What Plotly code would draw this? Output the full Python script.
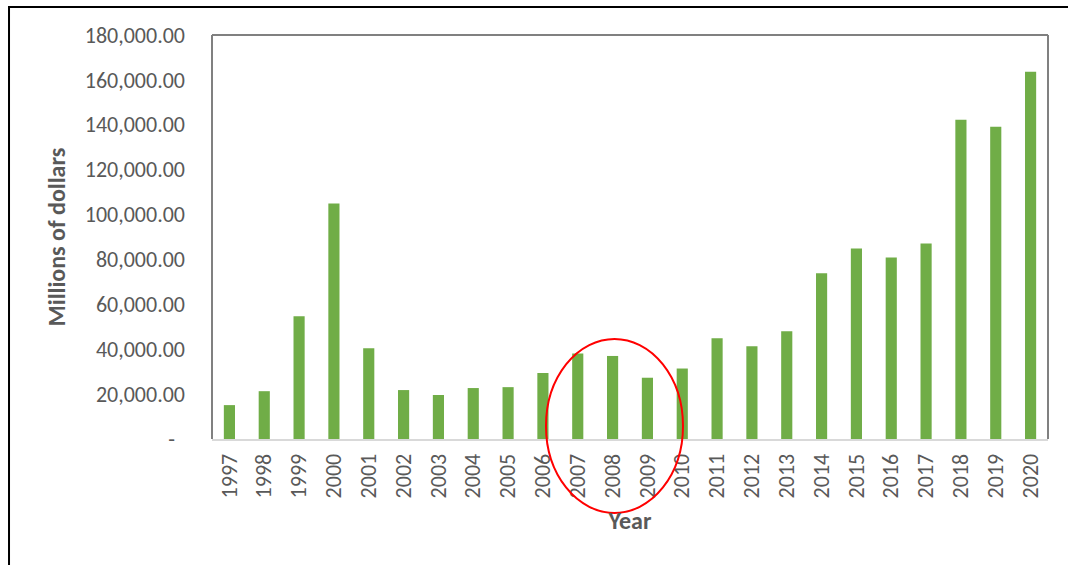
import plotly.graph_objects as go

years = [str(y) for y in range(1997, 2021)]
values = [15100, 21300, 54700, 104900, 40400, 21800, 19600, 22700, 23100, 29400,
          38100, 37000, 27300, 31400, 44900, 41300, 48000, 73800, 84900, 80900,
          87100, 142200, 139100, 163600]
ytick_vals = [0, 20000, 40000, 60000, 80000, 100000, 120000, 140000, 160000, 180000]
ytick_text = ["-\u00a0\u00a0"] + [f"{v:,.2f}" for v in ytick_vals[1:]]

FONT = "Calibri, Carlito, Lato, sans-serif"
GREY_TXT = "#595959"

fig = go.Figure(go.Bar(x=years, y=values, marker=dict(color="#70AD47", line=dict(width=0))))

fig.update_layout(
    width=1068, height=565,
    margin=dict(l=212, r=20, t=35, b=126),
    paper_bgcolor="white", plot_bgcolor="white",
    bargap=0.68,
    showlegend=False,
    font=dict(family=FONT, color=GREY_TXT, size=22),
)
fig.update_xaxes(
    type="category", tickangle=-90, showgrid=False,
    showline=True, linecolor="#d9d9d9", linewidth=2,
    ticks="", tickfont=dict(size=22, color=GREY_TXT, family=FONT),
    ticklabelstandoff=4,
    title=dict(text="<b>Year</b>", font=dict(size=24, color=GREY_TXT, family=FONT), standoff=15),
)
fig.update_yaxes(
    range=[0, 180000], tickvals=ytick_vals, ticktext=ytick_text,
    showgrid=False, zeroline=False, showline=False, ticks="",
    tickfont=dict(size=22, color=GREY_TXT, family=FONT),
    ticklabelstandoff=26,
    title=dict(text="<b>Millions of dollars</b>", font=dict(size=24, color=GREY_TXT, family=FONT), standoff=12),
)

# plot area border (left, top, right)
for x0, y0, x1, y1 in [(0, 0, 0, 1), (0, 1, 1, 1), (1, 0, 1, 1)]:
    fig.add_shape(type="line", xref="paper", yref="paper", x0=x0, y0=y0, x1=x1, y1=y1,
                  line=dict(color="#808080", width=2))

# outer frame
fig.add_shape(type="rect", xref="paper", yref="paper",
              x0=-0.2428, y0=-0.34, x1=1.04, y1=1.0693,
              line=dict(color="black", width=2), fillcolor="rgba(0,0,0,0)")

# red ellipse
fig.add_shape(type="circle", xref="paper", yref="paper",
              x0=0.3995, y0=-0.183, x1=0.5634, y1=0.2475,
              line=dict(color="#FF0000", width=2), fillcolor="rgba(0,0,0,0)")

fig.write_html("out.html", config={"displayModeBar": False},
               post_script="document.body.style.margin='0';")
